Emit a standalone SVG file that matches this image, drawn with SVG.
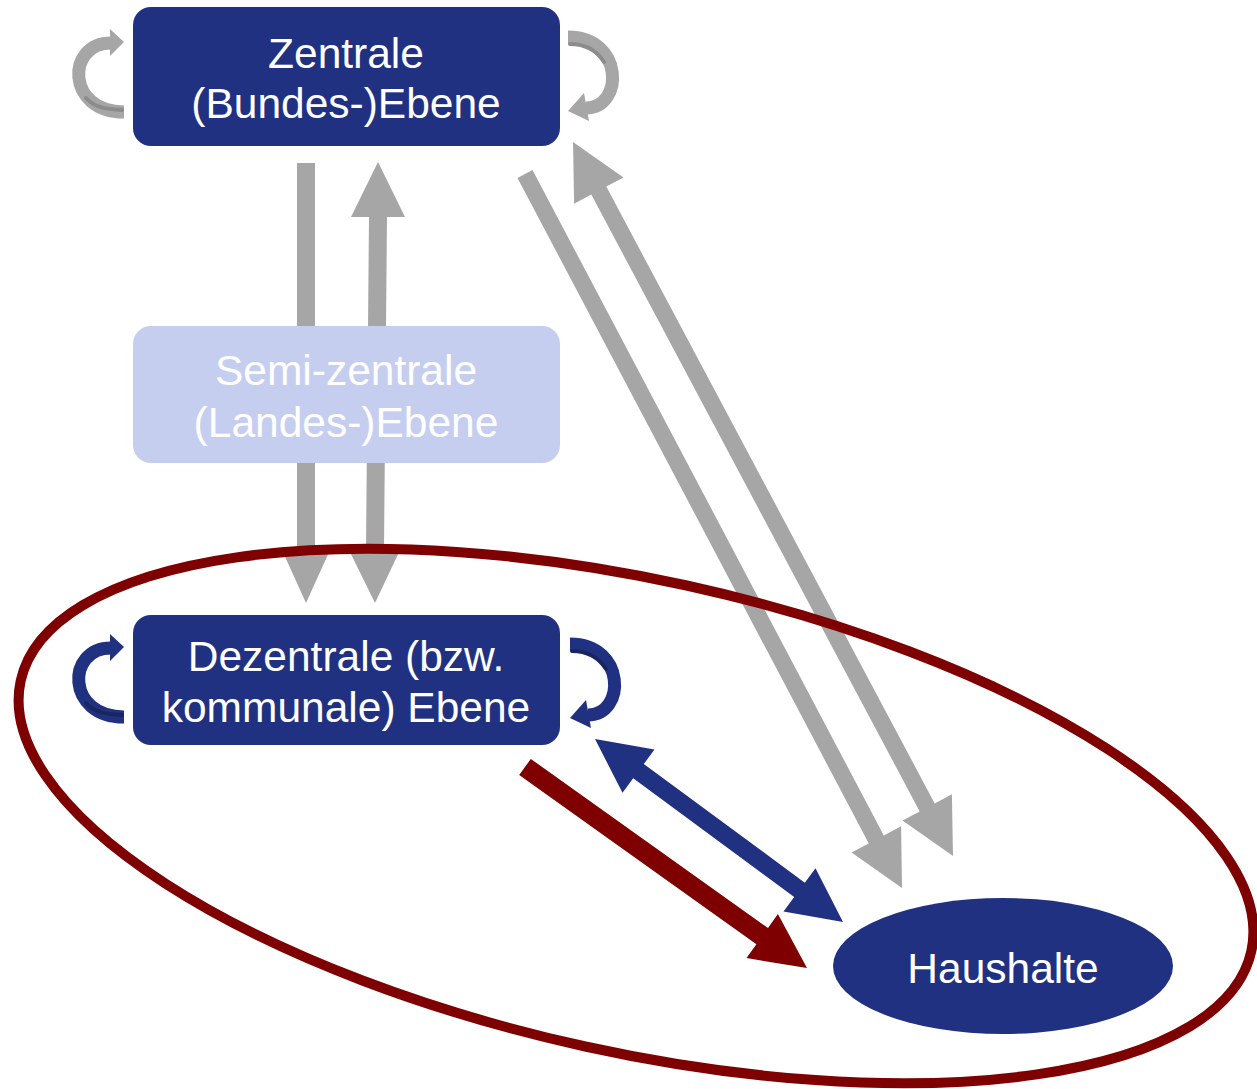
<svg xmlns="http://www.w3.org/2000/svg" width="1257" height="1089" viewBox="0 0 1257 1089">
<style>
.gray{fill:#a6a6a6}
.navy{fill:#213182}
.box{fill:#213182}
.semi{fill:#c6cef0}
.lbl{font-family:"Liberation Sans",Arial,sans-serif;font-size:42.5px;fill:#ffffff;text-anchor:middle}
.arcG{fill:none;stroke:#a6a6a6;stroke-width:13}
.arcGs{fill:none;stroke:#8c8c8c;stroke-width:4;stroke-linecap:round}
.arcB{fill:none;stroke:#213182;stroke-width:13}
.arcBs{fill:none;stroke:#18265f;stroke-width:4;stroke-linecap:round}
</style>
<rect width="1257" height="1089" fill="#ffffff"/>
<g id="connectors">
  <polygon class="gray" points="297,163 315,163 315,550 330,550 306,603 282,550 297,550"/>
  <polygon class="gray" points="378,162 405,217 387,217 384,548 401,548 375,603 348,548 366,548 369,217 351,217"/>
  <polygon class="gray" points="517.5,178 532.5,170 883.8,835.4 901.1,826.3 902,888 851.5,852.5 868.8,843.4"/>
  <polygon class="gray" points="573,142 623.5,177.4 606.3,186.6 934.7,803.4 951.9,794.2 953,856 902.5,820.6 919.7,811.4 591.3,194.6 574.1,203.8"/>
  <polygon class="navy" points="595,739 654.5,749.4 643.8,763.9 804.8,882.7 815.5,868.2 843,922 783.5,911.6 794.2,897.1 633.2,778.3 622.5,792.8"/>
  <polygon fill="#7f0000" points="530.8,758.9 768,928 777.9,914.1 807,968 746.5,958.1 756.4,944.2 519.2,775.1"/>
  <g id="loop-top-left">
    <path class="arcG" d="M124,112 C66,112 66,43 111,43"/>
    <path class="arcGs" d="M86,98 C95,108 106,109 122,110"/>
    <polygon class="gray" points="110,29 124,42 110,56"/>
  </g>
  <g id="loop-top-right">
    <path class="arcG" d="M568,37 C624,37 624,108 586,108"/>
    <path class="arcGs" d="M570,44 C586,44 597,51 604,62"/>
    <polygon class="gray" points="584,93 568,111 589,121"/>
  </g>
  <g id="loop-bottom-left" transform="translate(0,605)">
    <path class="arcB" d="M124,112 C66,112 66,43 111,43"/>
    <path class="arcBs" d="M86,98 C95,108 106,109 122,110"/>
    <polygon class="navy" points="110,29 124,42 110,56"/>
  </g>
  <g id="loop-bottom-right" transform="translate(2,607)">
    <path class="arcB" d="M568,37 C624,37 624,108 586,108"/>
    <path class="arcBs" d="M570,44 C586,44 597,51 604,62"/>
    <polygon class="navy" points="584,93 568,111 589,121"/>
  </g>
</g>
<g id="zentrale">
  <rect class="box" x="133" y="7" width="427" height="139" rx="18"/>
  <text class="lbl" x="346" y="68">Zentrale</text>
  <text class="lbl" x="346" y="118">(Bundes-)Ebene</text>
</g>
<g id="semizentrale">
  <rect class="semi" x="133" y="326" width="427" height="137" rx="18"/>
  <text class="lbl" x="346" y="385">Semi-zentrale</text>
  <text class="lbl" x="346" y="437">(Landes-)Ebene</text>
</g>
<g id="dezentrale">
  <rect class="box" x="133" y="615" width="427" height="130" rx="18"/>
  <text class="lbl" x="346" y="671">Dezentrale (bzw.</text>
  <text class="lbl" x="346" y="722">kommunale) Ebene</text>
</g>
<g id="haushalte">
  <ellipse class="navy" cx="1003" cy="966" rx="170" ry="68"/>
  <text class="lbl" x="1003" y="983">Haushalte</text>
</g>
<g id="focus-ellipse">
  <ellipse cx="636" cy="816" rx="630" ry="236" transform="rotate(12.4 636 816)" fill="none" stroke="#7f0000" stroke-width="10"/>
</g>
</svg>
